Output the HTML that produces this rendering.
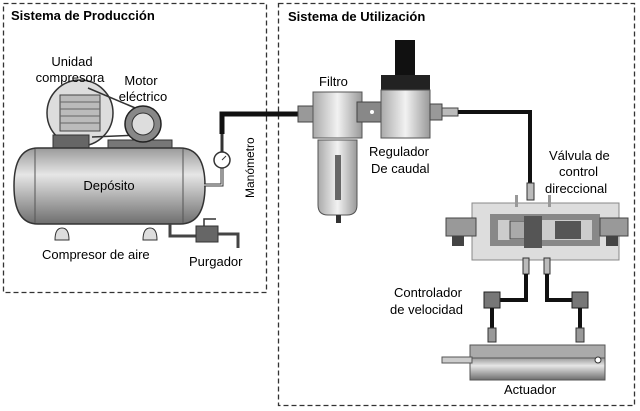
<!DOCTYPE html>
<html><head><meta charset="utf-8"><style>
body{margin:0;background:#fff;}
svg{display:block;font-family:"Liberation Sans",sans-serif;}
</style></head><body>
<svg width="640" height="411" viewBox="0 0 640 411">
<defs>
<linearGradient id="g1" x1="0" y1="0" x2="0" y2="1"><stop offset="0" stop-color="#9a9a9a"/><stop offset="0.35" stop-color="#e6e6e6"/><stop offset="1" stop-color="#6e6e6e"/></linearGradient>
<linearGradient id="g2" x1="0" y1="0" x2="1" y2="0"><stop offset="0" stop-color="#aaa"/><stop offset="0.5" stop-color="#f2f2f2"/><stop offset="1" stop-color="#999"/></linearGradient>
</defs>
<rect x="3.5" y="3.5" width="263" height="289" fill="none" stroke="#333" stroke-width="1.3" stroke-dasharray="5,3"/>
<rect x="278.5" y="3.5" width="356" height="402" fill="none" stroke="#333" stroke-width="1.3" stroke-dasharray="5,3"/>
<text x="11" y="20" font-size="13" font-weight="bold">Sistema de Producción</text>
<text x="288" y="21" font-size="13" font-weight="bold">Sistema de Utilización</text>

<circle cx="80" cy="113" r="33" fill="#ddd" stroke="#333" stroke-width="1.5"/>
<rect x="60" y="95" width="40" height="36" fill="#bbb" stroke="#444"/>
<g stroke="#666"><line x1="60" y1="102" x2="100" y2="102"/><line x1="60" y1="109" x2="100" y2="109"/><line x1="60" y1="116" x2="100" y2="116"/><line x1="60" y1="123" x2="100" y2="123"/></g>
<line x1="88" y1="88" x2="140" y2="110" stroke="#333" stroke-width="1.5"/>
<line x1="92" y1="137" x2="140" y2="135" stroke="#333" stroke-width="1.5"/>
<rect x="108" y="140" width="64" height="8" fill="#777" stroke="#333"/>
<circle cx="143" cy="124" r="18" fill="#888" stroke="#222" stroke-width="1.5"/>
<circle cx="143" cy="124" r="11" fill="#ddd" stroke="#333"/>
<rect x="53" y="135" width="36" height="14" fill="#666" stroke="#333"/>
<path d="M38 148 H180 Q205 148 205 186 Q205 224 180 224 H38 Q14 224 14 186 Q14 148 38 148Z" fill="url(#g1)" stroke="#333" stroke-width="1.5"/>
<line x1="35" y1="149" x2="35" y2="223" stroke="#555"/>
<line x1="183" y1="149" x2="183" y2="223" stroke="#555"/>
<path d="M55 240 Q55 228 62 228 Q69 228 69 240Z" fill="#ddd" stroke="#333"/>
<path d="M143 240 Q143 228 150 228 Q157 228 157 240Z" fill="#ddd" stroke="#333"/>
<text x="109" y="190" font-size="13" text-anchor="middle">Depósito</text>
<polyline points="204,185 222,185 222,168" fill="none" stroke="#333" stroke-width="3"/>
<polyline points="204,185 222,185 222,168" fill="none" stroke="#fff" stroke-width="1"/>
<line x1="222" y1="152" x2="222" y2="133" stroke="#333" stroke-width="3"/>
<polyline points="222,134 222,114 300,114" fill="none" stroke="#111" stroke-width="5"/>
<circle cx="222" cy="160" r="8" fill="#fff" stroke="#333" stroke-width="1.5"/>
<line x1="222" y1="160" x2="226" y2="156" stroke="#333"/>
<polyline points="170,224 170,236 198,236" fill="none" stroke="#444" stroke-width="3"/>
<rect x="196" y="226" width="22" height="16" fill="#666" stroke="#333"/>
<polyline points="218,234 238,234 238,248" fill="none" stroke="#444" stroke-width="3"/>
<polyline points="204,226 204,219 216,219" fill="none" stroke="#333" stroke-width="1.5"/>
<text x="72" y="66" font-size="13" text-anchor="middle">Unidad</text>
<text x="70" y="82" font-size="13" text-anchor="middle">compresora</text>
<text x="141" y="85" font-size="13" text-anchor="middle">Motor</text>
<text x="143" y="101" font-size="13" text-anchor="middle">eléctrico</text>
<text x="42" y="259" font-size="13">Compresor de aire</text>
<text x="189" y="266" font-size="13">Purgador</text>
<text transform="translate(254,198) rotate(-90)" font-size="12">Manómetro</text>

<rect x="298" y="106" width="16" height="16" fill="#999" stroke="#444"/>
<rect x="313" y="92" width="49" height="46" fill="url(#g2)" stroke="#555"/>
<path d="M318 140 H357 V205 Q357 215 347 215 H328 Q318 215 318 205Z" fill="url(#g2)" stroke="#555"/>
<rect x="335" y="155" width="6" height="45" fill="#666"/>
<rect x="336" y="215" width="5" height="8" fill="#333"/>
<text x="319" y="86" font-size="13">Filtro</text>
<rect x="357" y="102" width="28" height="20" fill="#888" stroke="#444"/>
<circle cx="372" cy="112" r="2" fill="#fff"/>
<rect x="395" y="40" width="20" height="36" fill="#111"/>
<rect x="381" y="75" width="49" height="15" fill="#222"/>
<rect x="381" y="90" width="49" height="48" fill="url(#g2)" stroke="#555"/>
<rect x="430" y="104" width="12" height="16" fill="#999" stroke="#444"/>
<rect x="442" y="108" width="16" height="8" fill="#bbb" stroke="#444"/>
<polyline points="458,112 530,112 530,185" fill="none" stroke="#111" stroke-width="4"/>
<text x="369" y="156" font-size="13">Regulador</text>
<text x="371" y="173" font-size="13">De caudal</text>
<text x="549" y="160" font-size="13">Válvula de</text>
<text x="559" y="176" font-size="13">control</text>
<text x="545" y="193" font-size="13">direccional</text>
<rect x="527" y="183" width="7" height="17" fill="#bbb" stroke="#333"/>
<rect x="472" y="203" width="147" height="57" fill="#ddd" stroke="#888"/>
<path d="M490 214 H600 V246 H490Z" fill="#888"/>
<path d="M498 220 H592 V240 H498Z" fill="#ccc"/>
<rect x="510" y="221" width="20" height="18" fill="#aaa" stroke="#444"/>
<rect x="524" y="216" width="18" height="32" fill="#555"/>
<rect x="555" y="221" width="26" height="18" fill="#555"/>
<rect x="446" y="218" width="30" height="18" fill="#999" stroke="#444"/>
<rect x="600" y="218" width="28" height="18" fill="#999" stroke="#444"/>
<rect x="452" y="236" width="12" height="10" fill="#444"/>
<rect x="606" y="236" width="12" height="10" fill="#444"/>
<rect x="515" y="195" width="3" height="12" fill="#999"/>
<rect x="548" y="195" width="3" height="12" fill="#999"/>
<rect x="523" y="258" width="6" height="16" fill="#bbb" stroke="#333"/>
<rect x="544" y="258" width="6" height="16" fill="#bbb" stroke="#333"/>
<polyline points="526,274 526,300 500,300" fill="none" stroke="#111" stroke-width="4"/>
<polyline points="547,274 547,300 572,300" fill="none" stroke="#111" stroke-width="4"/>
<rect x="484" y="292" width="16" height="16" fill="#777" stroke="#222"/>
<rect x="572" y="292" width="16" height="16" fill="#777" stroke="#222"/>
<line x1="492" y1="308" x2="492" y2="330" stroke="#111" stroke-width="4"/>
<line x1="580" y1="308" x2="580" y2="330" stroke="#111" stroke-width="4"/>
<rect x="488" y="328" width="8" height="14" fill="#999" stroke="#333"/>
<rect x="576" y="328" width="8" height="14" fill="#999" stroke="#333"/>
<text x="394" y="297" font-size="13">Controlador</text>
<text x="390" y="314" font-size="13">de velocidad</text>
<rect x="470" y="345" width="135" height="15" fill="#aaa" stroke="#555"/>
<rect x="470" y="358" width="135" height="22" fill="url(#g1)" stroke="#555"/>
<rect x="442" y="357" width="30" height="6" fill="#ccc" stroke="#555"/>
<circle cx="598" cy="360" r="3" fill="#fff" stroke="#333"/>
<text x="504" y="394" font-size="13">Actuador</text>
</svg>
</body></html>
